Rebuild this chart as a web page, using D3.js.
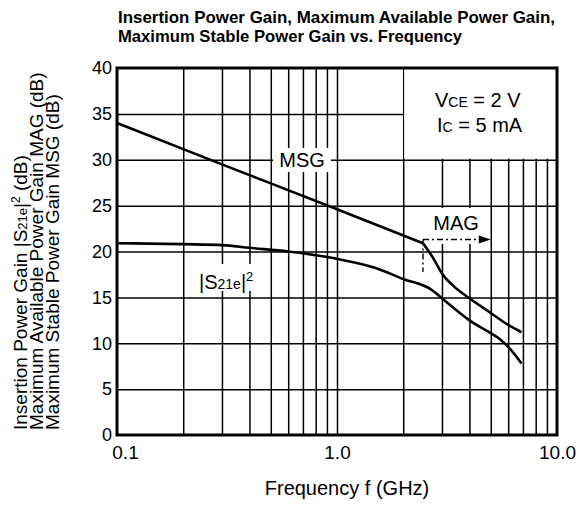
<!DOCTYPE html>
<html>
<head>
<meta charset="utf-8">
<script src="https://cdn.jsdelivr.net/npm/d3@7"></script>
<style>
  body { margin: 0; background: #fff; }
  text { font-family: "Liberation Sans", Arial, sans-serif; fill: #000; }
</style>
</head>
<body>
<script>
// chart values
const xTickValues = [0.1, 1.0, 10.0];
const xTickLabels = ['0.1', '1.0', '10.0'];
const yTickValues = [0, 5, 10, 15, 20, 25, 30, 35, 40];
const gridFreqs = [0.2, 0.3, 0.4, 0.5, 0.6, 0.7, 0.8, 0.9, 1.0, 2, 3, 4, 5, 6, 7, 8, 9];
const gridGains = [5, 10, 15, 20, 25, 30, 35];

const msgFreq = [0.1, 0.3, 1.0, 2.46];
const msgGain = [34.0, 29.5, 24.6, 20.9];

const magFreq = [2.46, 2.75, 3.0, 3.4, 4.0, 5.0, 6.0, 6.9];
const magGain = [20.9, 19.2, 17.6, 16.2, 14.9, 13.3, 12.0, 11.2];

const s21Freq = [0.1, 0.2, 0.3, 0.4, 0.6, 0.8, 1.0, 1.5, 2.0, 2.7, 3.0, 4.0, 5.0, 5.4, 6.0, 6.9];
const s21Gain = [20.9, 20.8, 20.7, 20.4, 20.0, 19.6, 19.2, 18.2, 17.0, 15.8, 14.9, 12.5, 11.1, 10.6, 9.6, 7.8];

// MAG marker: corner frequency, level of the arrow, bottom of the drop line, arrow end
const magMarkFreq = [2.46, 5.0];
const magMarkGain = [21.3, 17.8];

const W = 578, H = 506;
const svg = d3.select('body').append('svg')
  .attr('width', W)
  .attr('height', H);

svg.append('rect').attr('width', W).attr('height', H).attr('fill', '#fff');

const x = d3.scaleLog().domain([0.1, 10]).range([117, 557]);
const y = d3.scaleLinear().domain([0, 40]).range([435, 68]);
const [x0, x1] = x.range();
const [y0, y1] = y.range();

// grid
const grid = svg.append('g');
grid.append('g')
  .attr('transform', `translate(0,${y0})`)
  .call(d3.axisBottom(x).tickValues(gridFreqs).tickSize(-(y0 - y1)).tickFormat(''))
  .call(g => g.select('.domain').remove())
  .call(g => g.selectAll('line').attr('stroke', '#000').attr('stroke-width', 1.5));
grid.append('g')
  .attr('transform', `translate(${x0},0)`)
  .call(d3.axisLeft(y).tickValues(gridGains).tickSize(-(x1 - x0)).tickFormat(''))
  .call(g => g.select('.domain').remove())
  .call(g => g.selectAll('line').attr('stroke', '#000').attr('stroke-width', 1.5));

// white patches behind the labels
const patches = [
  [x(2), x(10), y(40), y(30)],       // condition box
  [272, 332, 147, 173],              // MSG
  [197, 258, 263, 292],              // |S21e|2
  [425, 488, 207, 245]               // MAG
];
svg.append('g').selectAll('rect').data(patches).join('rect')
  .attr('x', d => d[0] + 1)
  .attr('y', d => d[2] + 1)
  .attr('width', d => d[1] - d[0] - 2)
  .attr('height', d => d[3] - d[2] - 2)
  .attr('fill', '#fff');

// plot border
svg.append('rect')
  .attr('x', x0).attr('y', y1)
  .attr('width', x1 - x0).attr('height', y0 - y1)
  .attr('fill', 'none').attr('stroke', '#000').attr('stroke-width', 3);

// tick labels
svg.append('g')
  .attr('transform', `translate(${x0},0)`)
  .call(d3.axisLeft(y).tickValues(yTickValues).tickSize(0).tickPadding(5).tickFormat(d3.format('d')))
  .call(g => g.select('.domain').remove())
  .call(g => g.selectAll('text').attr('font-size', 18).attr('font-family', null));

svg.append('g')
  .attr('transform', `translate(0,${y0})`)
  .call(d3.axisBottom(x).tickValues(xTickValues).tickSize(0).tickPadding(11)
    .tickFormat((d, i) => xTickLabels[i]))
  .call(g => g.select('.domain').remove())
  .call(g => g.selectAll('text').attr('font-size', 19).attr('font-family', null)
    .attr('dx', (d, i) => i === 0 ? 8 : 0));

// curves
const line = d3.line().x(d => x(d[0])).y(d => y(d[1])).curve(d3.curveMonotoneX);
const curves = [
  d3.zip(msgFreq, msgGain),
  d3.zip(magFreq, magGain),
  d3.zip(s21Freq, s21Gain)
];
svg.append('g').selectAll('path').data(curves).join('path')
  .attr('d', line)
  .attr('fill', 'none')
  .attr('stroke', '#000')
  .attr('stroke-width', 2.6)
  .attr('stroke-linejoin', 'round');

// MAG dash-dot marker with arrow
const mark = svg.append('g')
  .attr('fill', 'none').attr('stroke', '#000').attr('stroke-width', 1.4)
  .attr('stroke-dasharray', '6,3,2,3');
mark.append('line')
  .attr('x1', x(magMarkFreq[0])).attr('x2', x(magMarkFreq[0]))
  .attr('y1', y(magMarkGain[0])).attr('y2', y(magMarkGain[1]));
mark.append('line')
  .attr('x1', x(magMarkFreq[0])).attr('x2', x(magMarkFreq[1]) - 10)
  .attr('y1', y(magMarkGain[0])).attr('y2', y(magMarkGain[0]));
const ax = x(magMarkFreq[1]), ay = y(magMarkGain[0]);
svg.append('path')
  .attr('d', `M${ax},${ay}L${ax - 12},${ay - 4}L${ax - 12},${ay + 4}Z`)
  .attr('fill', '#000');

// in-plot labels
svg.append('text').attr('x', 302).attr('y', 167).attr('text-anchor', 'middle')
  .attr('font-size', 20).text('MSG');
svg.append('text').attr('x', 456).attr('y', 230).attr('text-anchor', 'middle')
  .attr('font-size', 20).text('MAG');

const s21 = svg.append('text').attr('x', 199).attr('y', 289).attr('font-size', 20);
s21.append('tspan').text('|S');
s21.append('tspan').attr('font-size', 14).text('21e');
s21.append('tspan').text('|');
s21.append('tspan').attr('font-size', 13).attr('dy', -8).text('2');

const cond1 = svg.append('text').attr('x', 435).attr('y', 107).attr('font-size', 20);
cond1.append('tspan').text('V');
cond1.append('tspan').attr('font-size', 14).text('CE');
cond1.append('tspan').text(' = 2 V');
const cond2 = svg.append('text').attr('x', 437).attr('y', 132).attr('font-size', 20);
cond2.append('tspan').text('I');
cond2.append('tspan').attr('font-size', 14).text('C');
cond2.append('tspan').text(' = 5 mA');

// title
svg.append('text').attr('x', 118).attr('y', 23).attr('font-size', 17).attr('font-weight', 'bold')
  .attr('textLength', 437).attr('lengthAdjust', 'spacingAndGlyphs')
  .text('Insertion Power Gain, Maximum Available Power Gain,');
svg.append('text').attr('x', 118).attr('y', 42).attr('font-size', 17).attr('font-weight', 'bold')
  .attr('textLength', 344).attr('lengthAdjust', 'spacingAndGlyphs')
  .text('Maximum Stable Power Gain vs. Frequency');

// x axis title
svg.append('text').attr('x', 347).attr('y', 495).attr('text-anchor', 'middle')
  .attr('font-size', 20).text('Frequency f (GHz)');

// y axis title, three rotated lines
const yl1 = svg.append('text').attr('transform', 'translate(27,430) rotate(-90)').attr('font-size', 19);
yl1.append('tspan').text('Insertion Power Gain  |S');
yl1.append('tspan').attr('font-size', 13).text('21e');
yl1.append('tspan').text('|');
yl1.append('tspan').attr('font-size', 12).attr('dy', -7).text('2');
yl1.append('tspan').attr('dy', 7).text(' (dB)');
svg.append('text').attr('transform', 'translate(43,430) rotate(-90)').attr('font-size', 19)
  .text('Maximum Available Power Gain MAG (dB)');
svg.append('text').attr('transform', 'translate(59,430) rotate(-90)').attr('font-size', 19)
  .text('Maximum Stable Power Gain MSG (dB)');
</script>
</body>
</html>
